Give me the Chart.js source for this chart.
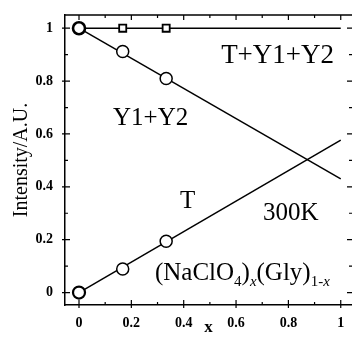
<!DOCTYPE html>
<html>
<head>
<meta charset="utf-8">
<script src="https://cdn.jsdelivr.net/npm/chart.js@4"></script>
<style>
  html, body { margin: 0; padding: 0; background: #fff; }
  #wrap { width: 352px; height: 338px; }
</style>
</head>
<body>
<div id="wrap"><canvas id="myChart"></canvas></div>
<script>
// measured points
let xs = [0, 0.167, 0.333];
let y12 = [1, 0.912, 0.81];
let tVals = [0, 0.089, 0.194];
let totalX = [0.167, 0.333];
let totalY = [1, 1];
// straight fit lines (end points)
let fitX = [0, 1];
let totalFit = [1, 1];
let y12Fit = [1, 0.43];
let tFit = [0, 0.577];
// axis ticks
let majorTicks = [0, 0.2, 0.4, 0.6, 0.8, 1];
let minorTicks = [0.1, 0.3, 0.5, 0.7, 0.9];
// text inside the plot
let notes = ['T+Y1+Y2', 'Y1+Y2', 'T', '300K'];

const serif = "'Liberation Serif', 'DejaVu Serif', serif";

function pts(x, y) {
  return x.map((v, i) => ({ x: v, y: y[i] }));
}

// frame + inward ticks
const frame = {
  id: 'frame',
  afterDraw(chart) {
    const ctx = chart.ctx;
    const a = chart.chartArea;
    const sx = chart.scales.x, sy = chart.scales.y;
    ctx.save();
    ctx.strokeStyle = '#000';
    ctx.lineWidth = 1.5;
    ctx.beginPath();
    ctx.moveTo(a.left, a.top);
    ctx.lineTo(a.right, a.top);
    ctx.stroke();
    ctx.lineWidth = 1.2;
    const tick = (vals, len, out) => {
      vals.forEach(v => {
        const px = sx.getPixelForValue(v);
        const py = sy.getPixelForValue(v);
        ctx.beginPath();
        ctx.moveTo(px, a.bottom + out); ctx.lineTo(px, a.bottom - len);
        ctx.moveTo(px, a.top); ctx.lineTo(px, a.top + len);
        ctx.moveTo(a.left - out, py); ctx.lineTo(a.left + len, py);
        ctx.moveTo(a.right, py); ctx.lineTo(a.right - len, py);
        ctx.stroke();
      });
    };
    tick(majorTicks, 5, 3);
    tick(minorTicks, 3, 0);
    ctx.restore();
  }
};

// labels drawn in data coordinates
const labels = {
  id: 'labels',
  afterDraw(chart) {
    const ctx = chart.ctx;
    const sx = chart.scales.x, sy = chart.scales.y;
    const at = [[0.543, 0.870], [0.130, 0.635], [0.386, 0.321], [0.703, 0.276]];
    const sizes = [27, 25, 25, 25];
    ctx.save();
    ctx.fillStyle = '#000';
    ctx.textBaseline = 'alphabetic';
    notes.forEach((t, i) => {
      ctx.font = sizes[i] + 'px ' + serif;
      ctx.fillText(t, sx.getPixelForValue(at[i][0]), sy.getPixelForValue(at[i][1]));
    });
    // (NaClO4)x(Gly)1-x
    let x = sx.getPixelForValue(0.29);
    const base = sy.getPixelForValue(0.049);
    const part = (s, font, dy) => {
      ctx.font = font;
      ctx.fillText(s, x, base + dy);
      x += ctx.measureText(s).width;
    };
    const big = '25px ' + serif, sub = '15px ' + serif, subI = 'italic 15px ' + serif;
    part('(NaClO', big, 0);
    part('4', sub, 6);
    part(')', big, 0);
    part('x', subI, 6);
    part('(Gly)', big, 0);
    part('1-', sub, 6);
    part('x', subI, 6);
    ctx.restore();
  }
};

const tickFont = { family: serif, size: 14, weight: 'bold' };

function renderChart() {
  let ctx = document.getElementById('myChart');
  new Chart(ctx, {
    type: 'scatter',
    data: {
      datasets: [
        {
          data: pts(xs, y12),
          pointStyle: 'circle',
          pointRadius: 6,
          pointBorderWidth: [2.6, 1.5, 1.5],
          borderColor: '#000',
          backgroundColor: '#fff',
          order: 0
        },
        {
          data: pts(xs, tVals),
          pointStyle: 'circle',
          pointRadius: 6,
          pointBorderWidth: [2.2, 1.5, 1.5],
          borderColor: '#000',
          backgroundColor: '#fff',
          order: 0
        },
        {
          data: pts(totalX, totalY),
          pointStyle: 'rect',
          pointRadius: 5,
          pointBorderWidth: 1.8,
          borderColor: '#000',
          backgroundColor: '#fff',
          order: 0
        },
        { data: pts(fitX, totalFit), showLine: true, pointRadius: 0, borderColor: '#000', borderWidth: 1.5, order: 1 },
        { data: pts(fitX, y12Fit), showLine: true, pointRadius: 0, borderColor: '#000', borderWidth: 1.5, order: 1 },
        { data: pts(fitX, tFit), showLine: true, pointRadius: 0, borderColor: '#000', borderWidth: 1.5, order: 1 }
      ]
    },
    options: {
      responsive: true,
      maintainAspectRatio: false,
      animation: false,
      layout: { autoPadding: false, padding: { top: 15, right: 0, left: 0, bottom: 0 } },
      plugins: { legend: { display: false }, tooltip: { enabled: false } },
      scales: {
        x: {
          type: 'linear',
          min: -0.0535,
          max: 1.043,
          afterBuildTicks: s => { s.ticks = majorTicks.map(v => ({ value: v })); },
          afterFit: s => { s.height = 33; s.paddingLeft = 0; s.paddingRight = 0; },
          grid: { display: false },
          border: { display: true, color: '#000', width: 1.5 },
          ticks: { color: '#000', padding: 2, maxRotation: 0, font: tickFont, callback: v => String(v) },
          title: { display: true, text: 'x', color: '#000', padding: { top: 0, bottom: 0 }, font: { family: serif, size: 17, weight: 'bold' } }
        },
        y: {
          type: 'linear',
          min: -0.047,
          max: 1.05,
          afterBuildTicks: s => { s.ticks = majorTicks.map(v => ({ value: v })); },
          afterFit: s => { s.width = 65; s.paddingTop = 0; s.paddingBottom = 0; },
          grid: { display: false },
          border: { display: true, color: '#000', width: 1.5 },
          ticks: { color: '#000', padding: 4, font: tickFont, callback: v => String(v) },
          title: { display: true, text: 'Intensity/A.U.', color: '#000', padding: { top: 10, bottom: 0 }, font: { family: serif, size: 20 } }
        }
      }
    },
    plugins: [frame, labels]
  });
}

renderChart();
</script>
</body>
</html>
